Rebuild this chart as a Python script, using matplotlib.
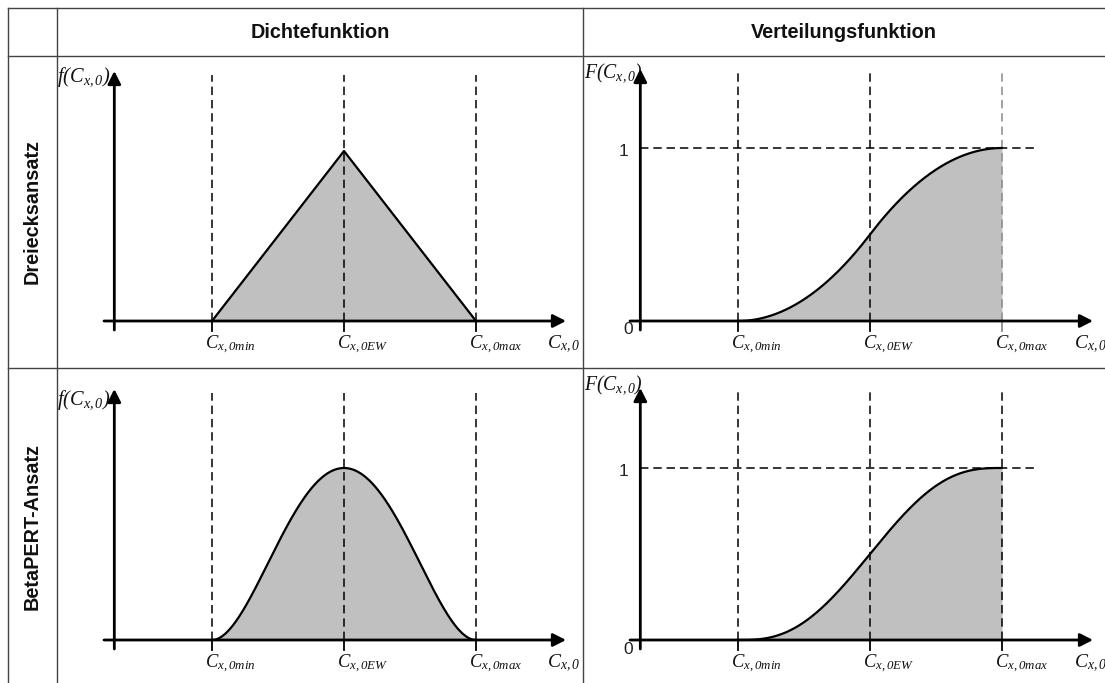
import math
import numpy as np
import matplotlib
matplotlib.use("Agg")
import matplotlib.pyplot as plt

plt.rcParams["mathtext.fontset"] = "custom"
plt.rcParams["mathtext.it"] = "Liberation Serif:italic"
plt.rcParams["mathtext.rm"] = "Liberation Serif:italic"
plt.rcParams["mathtext.bf"] = "Liberation Serif:italic:bold"

# Drei-Punkt-Schätzung der Kostenposition C_x,0
c_min, c_ew, c_max = 1.0, 2.0, 3.0
pert_lambda = 4.0

col_labels = ["Dichtefunktion", "Verteilungsfunktion"]
row_labels = ["Dreiecksansatz", "BetaPERT-Ansatz"]
x_ticks = [c_min, c_ew, c_max]
x_tick_labels = [r"$C_{x,0min}$", r"$C_{x,0EW}$", r"$C_{x,0max}$"]
x_axis_label = r"$C_{x,0}$"
pdf_label = r"$f(C_{x,0})$"
cdf_label = r"$F(C_{x,0})$"
cdf_levels = [0, 1]

# Dreiecksverteilung
x = np.linspace(c_min, c_max, 801)
span = c_max - c_min
tri_pdf = np.where(x <= c_ew,
                   2 * (x - c_min) / (span * (c_ew - c_min)),
                   2 * (c_max - x) / (span * (c_max - c_ew)))
tri_cdf = np.where(x <= c_ew,
                   (x - c_min) ** 2 / (span * (c_ew - c_min)),
                   1 - (c_max - x) ** 2 / (span * (c_max - c_ew)))

# BetaPERT-Verteilung
alpha = 1 + pert_lambda * (c_ew - c_min) / span
beta = 1 + pert_lambda * (c_max - c_ew) / span
B = math.gamma(alpha) * math.gamma(beta) / math.gamma(alpha + beta)
t = (x - c_min) / span
pert_pdf = t ** (alpha - 1) * (1 - t) ** (beta - 1) / B / span
pert_cdf = np.concatenate([[0], np.cumsum((pert_pdf[1:] + pert_pdf[:-1]) / 2 * np.diff(x))])
pert_cdf /= pert_cdf[-1]

W, H = 1105, 683
fig = plt.figure(figsize=(W / 100, H / 100), dpi=100)
fig.patch.set_facecolor("white")

# Tabellenraster in Pixelkoordinaten
bg = fig.add_axes([0, 0, 1, 1])
bg.set_xlim(0, W)
bg.set_ylim(H, 0)
bg.axis("off")
grid_col = "#444444"
glw = 1.0
bg.plot([8, W], [8, 8], color=grid_col, lw=glw)
bg.plot([8, W], [56, 56], color=grid_col, lw=glw)
bg.plot([8, W], [368, 368], color=grid_col, lw=glw)
for gx in (8, 57, 583):
    bg.plot([gx, gx], [8, H], color=grid_col, lw=glw)

hfont = dict(family="Liberation Sans", weight="bold", size=14.3, color="#111111")
bg.text(320, 32, col_labels[0], ha="center", va="center", **hfont)
bg.text(844, 32, col_labels[1], ha="center", va="center", **hfont)
bg.text(32, 212, row_labels[0], ha="center", va="center", rotation=90, **hfont)
bg.text(32, 527, row_labels[1], ha="center", va="center", rotation=90, **hfont)

PT = 0.72  # Punkte je Pixel


def panel(box, x_map, y_map):
    l, t_, r, b = box
    ax = fig.add_axes([l / W, 1 - b / H, (r - l) / W, (b - t_) / H])
    x0, sx = x_map
    y0, sy = y_map
    ax.set_xlim((l - x0) / sx, (r - x0) / sx)
    ax.set_ylim((y0 - b) / sy, (y0 - t_) / sy)
    ax.axis("off")
    ax.patch.set_alpha(0)
    return ax


def draw_panel(ax, x_map, y_map, curve, dash_top, ytip, xstart, xtip, is_cdf, max_color):
    x0, sx = x_map
    y0, sy = y_map
    ya = 0.26
    ax.fill_between(x, 0, curve, color="#c0c0c0", lw=0, zorder=1)
    top = (y0 - dash_top) / sy
    below = -10 / sy
    for i, c in enumerate(x_ticks):
        col = max_color if i == 2 else "black"
        ax.plot([c, c], [0, top], color=col, lw=1.1, dashes=(5.5, 3.2), zorder=2)
        ax.plot([c, c], [below, 0], color=col, lw=1.3, zorder=2)
        ax.annotate(x_tick_labels[i], xy=(c, 0), xytext=(-7 * PT, -28 * PT),
                    textcoords="offset points", ha="left", va="baseline",
                    fontsize=13.3, color="#111111")
    if is_cdf:
        ax.plot([ya, c_max + 0.27], [1, 1], color="black", lw=1.1, dashes=(5.5, 3.2), zorder=2)
        ax.annotate("1", xy=(ya, cdf_levels[1]), xytext=(-17 * PT, -3 * PT),
                    textcoords="offset points", ha="center", va="center",
                    family="Liberation Sans", fontsize=12.5, color="#222222")
        ax.annotate("0", xy=(ya, cdf_levels[0]), xytext=(-12 * PT, -9 * PT),
                    textcoords="offset points", ha="center", va="center",
                    family="Liberation Sans", fontsize=12.5, color="#222222")
    ax.plot(x, curve, color="black", lw=1.6, zorder=4, solid_capstyle="round")
    # Achsen mit Pfeilspitzen
    arrow = dict(arrowstyle="-|>,head_length=0.55,head_width=0.28", lw=2.0,
                 color="black", shrinkA=0, shrinkB=0, mutation_scale=14)
    ax.annotate("", xy=(ya, (y0 - ytip) / sy), xytext=(ya, -9 / sy),
                arrowprops=arrow, zorder=3)
    ax.annotate("", xy=((xtip - x0) / sx, 0), xytext=((xstart - x0) / sx, 0),
                arrowprops=arrow, zorder=3)
    ax.annotate(x_axis_label, xy=((xtip - x0) / sx, 0), xytext=(-19 * PT, -27 * PT),
                textcoords="offset points", ha="left", va="baseline",
                fontsize=14, color="#111111")


specs = [
    # box, x-map, y-map, curve, dash top, y tip, x start, x tip, cdf?, colour of max line
    ((58, 57, 582, 367), (80, 132), (321, 170), tri_pdf, 75, 71, 104, 566, False, "black"),
    ((584, 57, W, 367), (606, 132), (321, 173), tri_cdf, 72, 69, 630, 1093, True, "#8a8a8a"),
    ((58, 369, 582, H), (80, 132), (640, 172 / pert_pdf.max()), pert_pdf, 393, 389, 104, 566, False, "black"),
    ((584, 369, W, H), (606, 132), (640, 172), pert_cdf, 390, 388, 630, 1093, True, "black"),
]
for box, xm, ym, curve, dt, yt, xs, xt, is_cdf, mc in specs:
    ax = panel(box, xm, ym)
    draw_panel(ax, xm, ym, curve, dt, yt, xs, xt, is_cdf, mc)

bg.text(111, 77, pdf_label, ha="right", va="center", fontsize=14.7, color="#111111")
bg.text(111, 400, pdf_label, ha="right", va="center", fontsize=14.7, color="#111111")
bg.text(584, 73, cdf_label, ha="left", va="center", fontsize=14.2, color="#111111")
bg.text(584, 385, cdf_label, ha="left", va="center", fontsize=14.2, color="#111111")

fig.savefig("out.png", dpi=100, facecolor="white")
